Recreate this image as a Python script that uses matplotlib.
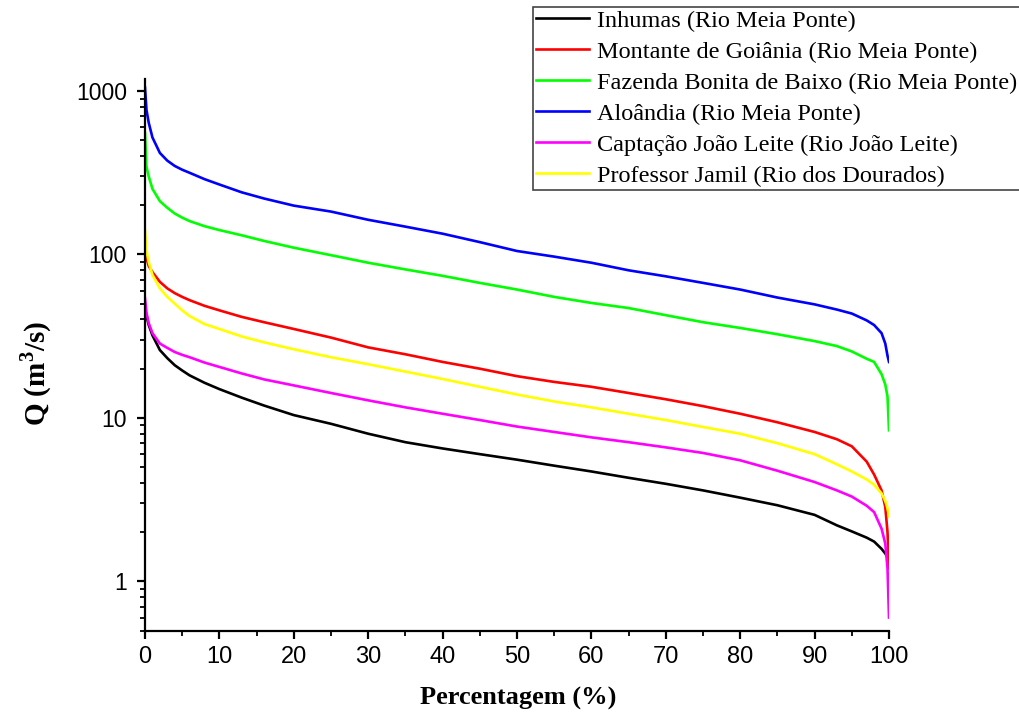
import numpy as np
import matplotlib
matplotlib.use("Agg")
import matplotlib.pyplot as plt
from matplotlib.ticker import LogLocator, MultipleLocator, NullFormatter, FixedFormatter, FixedLocator

# permanence (% of time) at which each flow was read
pct = [0, 0.2, 0.5, 1, 2, 3, 4, 5, 6, 8, 10, 13, 16, 20, 25, 30, 35, 40, 45, 50,
       55, 60, 65, 70, 75, 80, 85, 90, 93, 95, 97, 98, 99, 99.5, 99.8, 100]

# flows in m3/s, one list per gauging station
inhumas = [48, 42, 37, 32, 26, 23.2, 21, 19.5, 18.2, 16.4, 15, 13.3, 11.9, 10.4, 9.2, 8.0, 7.1, 6.5, 6.0, 5.55,
           5.1, 4.7, 4.3, 3.95, 3.6, 3.25, 2.92, 2.55, 2.2, 2.02, 1.85, 1.75, 1.58, 1.48, 1.4, 1.29]
montante = [115, 95, 85, 78, 68, 62, 58, 55, 52.5, 48.5, 45.5, 41.5, 38.5, 35, 31, 27, 24.5, 22, 20, 18,
            16.6, 15.5, 14.2, 13, 11.8, 10.6, 9.4, 8.2, 7.4, 6.7, 5.4, 4.5, 3.6, 2.85, 2.0, 1.2]
fazenda = [553, 344, 300, 252, 212, 193, 178, 168, 160, 149, 141, 131, 121, 110, 99, 89, 81, 74, 67, 61,
           55, 50.5, 47, 42.5, 38.5, 35.5, 32.5, 29.5, 27.5, 25.5, 23, 22, 18.5, 16, 13.5, 8.4]
aloandia = [1050, 766, 640, 520, 418, 375, 348, 330, 316, 289, 268, 240, 220, 199, 183, 163, 148, 134, 119, 105,
            97, 89, 80, 73.5, 67, 61, 54.5, 49.5, 46, 43.5, 39.5, 37, 33, 28.5, 24, 22]
captacao = [54, 44, 38, 33, 28.5, 26.8, 25.3, 24.3, 23.5, 21.8, 20.5, 18.7, 17.2, 15.8, 14.2, 12.8, 11.6, 10.6, 9.7, 8.85,
            8.2, 7.6, 7.1, 6.6, 6.1, 5.5, 4.75, 4.05, 3.6, 3.3, 2.9, 2.65, 2.1, 1.7, 1.2, 0.6]
jamil = [141, 105, 90, 75, 62, 55, 50, 45.5, 42, 37.5, 35, 31.5, 29, 26.3, 23.5, 21.3, 19.2, 17.3, 15.5, 13.9,
         12.6, 11.6, 10.6, 9.7, 8.8, 8.0, 7.0, 6.0, 5.2, 4.7, 4.2, 3.9, 3.45, 3.1, 2.8, 2.5]

names = ["Inhumas (Rio Meia Ponte)",
         "Montante de Goiânia (Rio Meia Ponte)",
         "Fazenda Bonita de Baixo (Rio Meia Ponte)",
         "Aloândia (Rio Meia Ponte)",
         "Captação João Leite (Rio João Leite)",
         "Professor Jamil (Rio dos Dourados)"]
colors = ["#000000", "#ff0000", "#00ff00", "#0000ff", "#ff00ff", "#ffff00"]
series = [inhumas, montante, fazenda, aloandia, captacao, jamil]

plt.rcParams["mathtext.fontset"] = "custom"
plt.rcParams["mathtext.rm"] = "Liberation Serif"
plt.rcParams["mathtext.bf"] = "Liberation Serif:bold"

fig = plt.figure(figsize=(10.2, 7.15), dpi=100)
ax = fig.add_axes([145 / 1020, 1 - 630.5 / 715, 744 / 1020, (630.5 - 78.7) / 715])

for vals, name, c in zip(series, names, colors):
    ax.plot(pct, vals, color=c, lw=1.9, label=name)

ax.set_yscale("log")
ax.set_xlim(0, 100)
ax.set_ylim(0.5, 1190)

ax.spines["top"].set_visible(False)
ax.spines["right"].set_visible(False)
ax.spines["left"].set_linewidth(1.6)
ax.spines["bottom"].set_linewidth(1.6)

ax.xaxis.set_major_locator(MultipleLocator(10))
ax.xaxis.set_minor_locator(MultipleLocator(5))
ax.yaxis.set_major_locator(FixedLocator([1, 10, 100, 1000]))
ax.yaxis.set_major_formatter(FixedFormatter(["1", "10", "100", "1000"]))
ax.yaxis.set_minor_locator(LogLocator(base=10, subs=np.arange(2, 10)))
ax.yaxis.set_minor_formatter(NullFormatter())

ax.tick_params(which="major", direction="out", length=6, width=1.6)
ax.tick_params(which="minor", direction="out", length=3.5, width=1.3)
ax.tick_params(axis="y", labelsize=16.5, pad=7)
ax.tick_params(axis="x", labelsize=17, pad=5)
for lab in ax.get_yticklabels():
    lab.set_family("Liberation Sans")
for lab in ax.get_xticklabels():
    lab.set_family("Liberation Sans")

fig.text(518 / 1020, 1 - 698 / 715, "Percentagem (%)", family="Liberation Serif",
         fontweight="bold", fontsize=19, ha="center", va="center")
fig.text(36 / 1020, 1 - 373 / 715, r"Q (m$^\mathbf{3}$/s)", family="Liberation Serif",
         fontweight="bold", fontsize=21, ha="center", va="center", rotation=90)

leg = fig.legend(loc="upper left", bbox_to_anchor=(533 / 1020, 1 - 7 / 715), borderaxespad=0,
                 prop={"family": "Liberation Serif", "size": 17.5}, fancybox=False,
                 handlelength=2.2, handletextpad=0.3, borderpad=0.12, labelspacing=0.37,
                 edgecolor="#444444", framealpha=1)
leg.get_frame().set_linewidth(1.2)

fig.savefig("out.png", dpi=100)
